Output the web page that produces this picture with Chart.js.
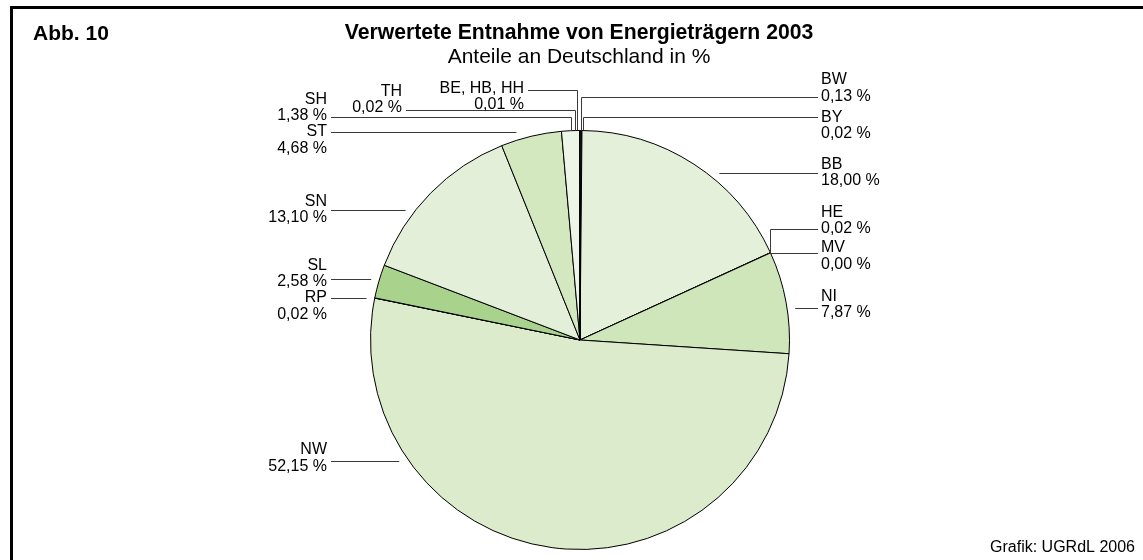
<!DOCTYPE html>
<html><head><meta charset="utf-8">
<script src="https://cdn.jsdelivr.net/npm/chart.js@4"></script>
<style>
html,body{margin:0;padding:0;background:#fff;overflow:hidden}
canvas{display:block}
</style></head><body>
<canvas id="c" width="1143" height="560"></canvas>
<script>
// ---- data ----
const categories = ['BW','BY','BB','HE','MV','NI','NW','RP','SL','SN','ST','SH','TH','BE, HB, HH'];
const shares     = [0.13, 0.02, 18.00, 0.02, 0.00, 7.87, 52.15, 0.02, 2.58, 13.10, 4.68, 1.38, 0.02, 0.01];
const valueLabels = ['0,13 %','0,02 %','18,00 %','0,02 %','0,00 %','7,87 %','52,15 %','0,02 %','2,58 %','13,10 %','4,68 %','1,38 %','0,02 %','0,01 %'];
const titleText = 'Verwertete Entnahme von Energieträgern 2003';
const subtitleText = 'Anteile an Deutschland in %';
const figText = 'Abb. 10';
const sourceText = 'Grafik: UGRdL 2006';

// ---- styles ----
const sliceColors = ['#e3efd8','#e3efd8','#e4f0d9','#e4f0d9','#e4f0d9','#cfe6ba','#dcebcb','#dcebcb','#a9d38c','#e3efd8','#d4e8c0','#edf5e6','#edf5e6','#edf5e6'];
// label placement (text positions and leader style)
const labelLayout = [
  {side:'R', x:821, y1:80,  y2:97,  type:'vtop', ly:97,  dx:0},   // BW
  {side:'R', x:821, y1:118, y2:134, type:'vtop', ly:117, dx:1},   // BY
  {side:'R', x:821, y1:165, y2:181, type:'h',    ly:173},         // BB
  {side:'R', x:821, y1:213, y2:229, type:'vpt',  ly:229},         // HE
  {side:'R', x:821, y1:248, y2:265, type:'pt'},                   // MV
  {side:'R', x:821, y1:297, y2:313, type:'h',    ly:308},         // NI
  {side:'L', x:327, y1:450, y2:467, type:'h',    ly:461},         // NW
  {side:'L', x:327, y1:298, y2:315, type:'h',    ly:298},         // RP
  {side:'L', x:327, y1:266, y2:282, type:'h',    ly:279},         // SL
  {side:'L', x:327, y1:202, y2:218, type:'h',    ly:210},         // SN
  {side:'L', x:327, y1:132, y2:149, type:'h',    ly:132},         // ST
  {side:'L', x:327, y1:100, y2:116, type:'vtop', ly:117, dx:0},   // SH
  {side:'L', x:402, y1:92,  y2:108, type:'vtop', ly:110, dx:-4.5},// TH
  {side:'L', x:524, y1:89,  y2:105, type:'vtop', ly:90,  dx:-3}   // BE, HB, HH
];

const FONT = '"Liberation Sans", Arial, sans-serif';

const labelPlugin = {
  id: 'labels',
  afterDraw(chart) {
    const ctx = chart.ctx;
    const arcs = chart.getDatasetMeta(0).data;
    ctx.save();
    // frame (top and left edges visible)
    ctx.strokeStyle = '#000';
    ctx.lineWidth = 3;
    ctx.beginPath();
    ctx.moveTo(11.5, 600);
    ctx.lineTo(11.5, 7.5);
    ctx.lineTo(1200, 7.5);
    ctx.stroke();
    // titles
    ctx.fillStyle = '#000';
    ctx.textBaseline = 'middle';
    ctx.font = 'bold 21px ' + FONT;
    ctx.textAlign = 'left';
    ctx.fillText(figText, 33, 34);
    ctx.textAlign = 'center';
    ctx.font = 'bold 21.2px ' + FONT;
    ctx.fillText(titleText, 579, 33);
    ctx.font = '21px ' + FONT;
    ctx.fillText(subtitleText, 579, 57);
    ctx.font = '16px ' + FONT;
    ctx.textAlign = 'right';
    ctx.fillText(sourceText, 1135, 548);

    // labels and leader lines
    ctx.strokeStyle = '#3a3a3a';
    ctx.lineWidth = 1;
    arcs.forEach((arc, i) => {
      const L = labelLayout[i];
      const cx = arc.x, cy = arc.y, r = arc.outerRadius;
      const mid = (arc.startAngle + arc.endAngle) / 2;
      const endX = L.side === 'R' ? L.x - 3 : L.x + 4;
      ctx.beginPath();
      if (L.type === 'vtop') {
        const x = cx + r * Math.cos(mid) + (L.dx || 0);
        const yArc = cy - Math.sqrt(r * r - (x - cx) * (x - cx));
        const px = Math.round(x) + 0.5, py = Math.round(L.ly) + 0.5;
        ctx.moveTo(px, yArc);
        ctx.lineTo(px, py);
        ctx.lineTo(endX, py);
      } else if (L.type === 'h') {
        const R2 = r + 8;
        const dy = L.ly - cy;
        const dxx = Math.sqrt(Math.max(R2 * R2 - dy * dy, 0));
        const xs = L.side === 'R' ? cx + dxx : cx - dxx;
        const py = Math.round(L.ly) + 0.5;
        ctx.moveTo(xs, py);
        ctx.lineTo(endX, py);
      } else if (L.type === 'vpt') {
        const x = cx + r * Math.cos(mid), y = cy + r * Math.sin(mid);
        const px = Math.round(x) + 0.5, py = Math.round(L.ly) + 0.5;
        ctx.moveTo(px, y);
        ctx.lineTo(px, py);
        ctx.lineTo(endX, py);
      } else if (L.type === 'pt') {
        const x = cx + r * Math.cos(mid), y = cy + r * Math.sin(mid);
        const py = Math.round(y) + 0.5;
        ctx.moveTo(x, py);
        ctx.lineTo(endX, py);
      }
      ctx.stroke();
      ctx.fillStyle = '#000';
      ctx.font = '16px ' + FONT;
      ctx.textAlign = L.side === 'R' ? 'left' : 'right';
      ctx.fillText(categories[i], L.x, L.y1);
      ctx.fillText(valueLabels[i], L.x, L.y2);
    });
    ctx.restore();
  }
};

new Chart(document.getElementById('c'), {
  type: 'pie',
  data: {
    labels: categories,
    datasets: [{
      data: shares,
      backgroundColor: sliceColors,
      borderColor: '#000',
      borderWidth: 1
    }]
  },
  options: {
    responsive: false,
    animation: false,
    events: [],
    layout: { padding: { top: 130, bottom: 10, left: 370, right: 353 } },
    plugins: { legend: { display: false }, tooltip: { enabled: false }, title: { display: false } }
  },
  plugins: [labelPlugin]
});
</script>
</body></html>
